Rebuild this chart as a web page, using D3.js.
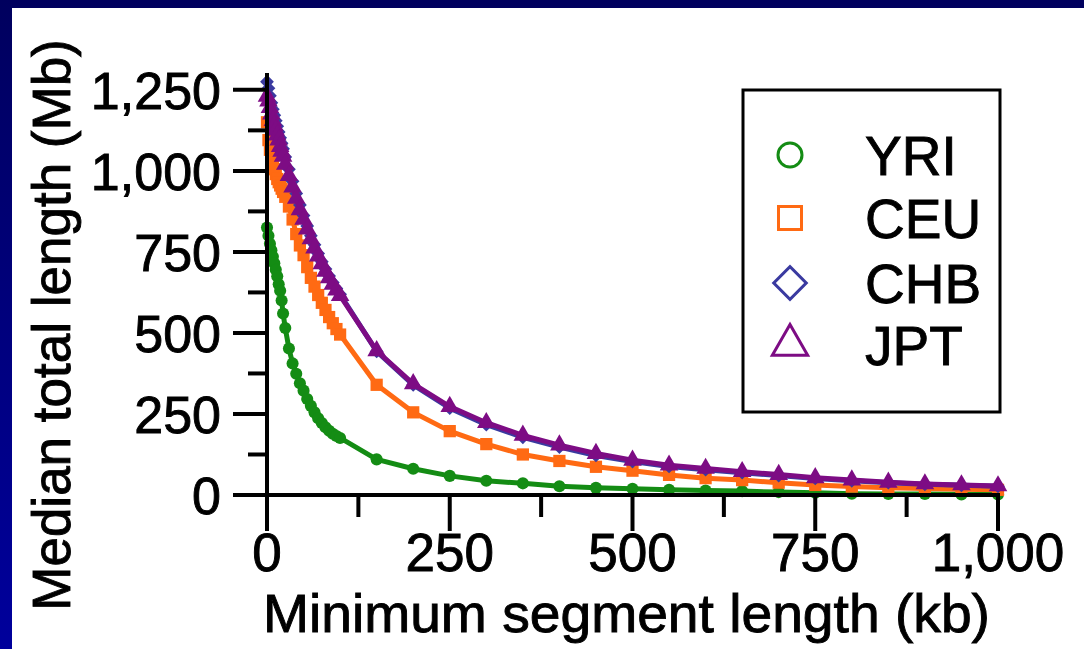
<!DOCTYPE html>
<html>
<head>
<meta charset="utf-8">
<script src="https://cdn.jsdelivr.net/npm/d3@7"></script>
<style>
  html, body { margin: 0; padding: 0; background: #00006a; }
  svg { display: block; font-family: "Liberation Sans", Arial, Helvetica, sans-serif; }
  text { fill: #000; stroke: #000; stroke-width: 0.9px; }
</style>
</head>
<body>
<div id="chart"></div>
<script>
// Values (kb on x, Mb on y)
var kb = [0, 2, 4, 6, 8, 10, 12, 14, 16, 18, 20, 22,
          25, 30, 35, 40, 45, 50, 55, 60, 65, 70, 75, 80, 85, 90, 95, 100,
          150, 200, 250, 300, 350, 400, 450, 500, 550, 600, 650, 700, 750, 800, 850, 900, 950, 1000];

var yri = [825, 800, 775, 755, 735, 715, 695, 675, 650, 630, 600, 560,
           515, 452, 406, 374, 345, 322, 296, 275, 255, 237, 222, 209, 198, 189, 182, 176,
           110, 81, 59, 44, 36, 27, 22, 19, 16, 14, 12, 9, 7, 4, 3, 3, 2, 2];

var ceu = [1150, 1095, 1065, 1045, 1025, 1005, 990, 975, 965, 955, 945, 935,
           920, 890, 850, 805, 770, 740, 703, 670, 643, 617, 593, 571, 549, 530, 512, 495,
           340, 255, 197, 157, 125, 105, 87, 75, 62, 52, 46, 38, 31, 26, 22, 20, 18, 16];

var chb = [1275, 1255, 1232, 1210, 1190, 1172, 1155, 1138, 1120, 1102, 1085, 1068,
           1043, 1005, 968, 930, 895, 862, 830, 800, 772, 745, 720, 697, 676, 656, 637, 619,
           443, 340, 268, 217, 178, 148, 122, 103, 88, 78, 69, 60, 51, 44, 38, 33, 30, 27];

var jpt = [1230, 1215, 1195, 1175, 1155, 1140, 1125, 1110, 1095, 1075, 1060, 1045,
           1020, 985, 950, 915, 880, 850, 820, 790, 762, 737, 713, 690, 670, 650, 632, 615,
           445, 343, 273, 223, 184, 154, 128, 107, 92, 82, 72, 63, 53, 46, 39, 34, 31, 28];

var seriesNames = ["YRI", "CEU", "CHB", "JPT"];
var xMajor = [0, 250, 500, 750, 1000];
var xMinor = [125, 375, 625, 875];
var yMajor = [0, 250, 500, 750, 1000, 1250];
var yMinor = [125, 375, 625, 875, 1125];

var colors = {YRI: "#148c14", CEU: "#ff6a13", CHB: "#3a3aa0", JPT: "#7d0c84"};
var seriesData = {YRI: yri, CEU: ceu, CHB: chb, JPT: jpt};

var W = 1084, H = 649;

var svg = d3.select("#chart").append("svg")
    .attr("width", W)
    .attr("height", H);

// navy frame + white panel
var grad = svg.append("defs").append("linearGradient")
    .attr("id", "frame").attr("x1", 0).attr("y1", 0).attr("x2", 0).attr("y2", 1);
grad.append("stop").attr("offset", "0%").attr("stop-color", "#00005e");
grad.append("stop").attr("offset", "100%").attr("stop-color", "#00009c");
svg.append("rect").attr("width", W).attr("height", H).attr("fill", "url(#frame)");
svg.append("rect").attr("x", 12).attr("y", 8).attr("width", W - 12).attr("height", H - 8).attr("fill", "#fff");

// scales
var x = d3.scaleLinear().domain([0, 1000]).range([267, 998]);
var y = d3.scaleLinear().domain([0, 1302]).range([495, 73]);

var fmt = d3.format(",");

// lines + markers
var line = d3.line()
    .x(function(d) { return x(d[0]); })
    .y(function(d) { return y(d[1]); });

var markerShape = {
  YRI: d3.symbol().type(d3.symbolCircle).size(115),
  CEU: d3.symbol().type(d3.symbolSquare).size(150),
  CHB: d3.symbol().type(d3.symbolSquare).size(95),
  JPT: d3.symbol().type(d3.symbolTriangle).size(150)
};
var markerRot = {YRI: 0, CEU: 0, CHB: 45, JPT: 0};

var plot = svg.append("g");
seriesNames.forEach(function(name) {
  var pts = kb.map(function(k, i) { return [k, seriesData[name][i]]; });
  var g = plot.append("g");
  g.append("path")
    .datum(pts)
    .attr("d", line)
    .attr("fill", "none")
    .attr("stroke", colors[name])
    .attr("stroke-width", 5)
    .attr("stroke-linejoin", "round");
  g.selectAll("path.mk")
    .data(pts)
    .enter()
    .append("path")
    .attr("class", "mk")
    .attr("d", markerShape[name])
    .attr("transform", function(d) {
      return "translate(" + x(d[0]) + "," + y(d[1]) + ") rotate(" + markerRot[name] + ")";
    })
    .attr("fill", colors[name]);
});

// axes
var axes = svg.append("g").attr("stroke", "#000").attr("stroke-width", 4);

axes.append("line")
  .attr("x1", x(0)).attr("x2", x(1000) + 2)
  .attr("y1", y(0)).attr("y2", y(0));
axes.append("line")
  .attr("x1", x(0)).attr("x2", x(0))
  .attr("y1", y(0) + 2).attr("y2", y(1302));

axes.selectAll("line.xmaj").data(xMajor).enter().append("line")
  .attr("x1", function(d) { return x(d); }).attr("x2", function(d) { return x(d); })
  .attr("y1", y(0)).attr("y2", y(0) + 36);
axes.selectAll("line.xmin").data(xMinor).enter().append("line")
  .attr("x1", function(d) { return x(d); }).attr("x2", function(d) { return x(d); })
  .attr("y1", y(0)).attr("y2", y(0) + 22);
axes.selectAll("line.ymaj").data(yMajor).enter().append("line")
  .attr("x1", x(0) - 34).attr("x2", x(0))
  .attr("y1", function(d) { return y(d); }).attr("y2", function(d) { return y(d); });
axes.selectAll("line.ymin").data(yMinor).enter().append("line")
  .attr("x1", x(0) - 19).attr("x2", x(0))
  .attr("y1", function(d) { return y(d); }).attr("y2", function(d) { return y(d); });

// tick labels
svg.selectAll("text.xt").data(xMajor).enter().append("text")
  .attr("x", function(d) { return x(d); })
  .attr("y", 571)
  .attr("text-anchor", "middle")
  .style("font-size", "53px")
  .text(fmt);

svg.selectAll("text.yt").data(yMajor).enter().append("text")
  .attr("x", 221)
  .attr("y", function(d) { return y(d) + 19; })
  .attr("text-anchor", "end")
  .style("font-size", "52px")
  .text(fmt);

// axis titles
svg.append("text")
  .attr("x", 263)
  .attr("y", 632)
  .attr("textLength", 727)
  .attr("lengthAdjust", "spacingAndGlyphs")
  .style("font-size", "54px")
  .text("Minimum segment length (kb)");

svg.append("text")
  .attr("transform", "translate(70,325) rotate(-90)")
  .attr("text-anchor", "middle")
  .style("font-size", "53px")
  .text("Median total length (Mb)");

// legend
var legend = svg.append("g");
legend.append("rect")
  .attr("x", 743).attr("y", 90)
  .attr("width", 257).attr("height", 322)
  .attr("fill", "#fff")
  .attr("stroke", "#000")
  .attr("stroke-width", 3);

var legShape = {
  YRI: d3.symbol().type(d3.symbolCircle).size(Math.PI * 12 * 12),
  CEU: d3.symbol().type(d3.symbolSquare).size(23 * 23),
  CHB: d3.symbol().type(d3.symbolSquare).size(23 * 23),
  JPT: d3.symbol().type(d3.symbolTriangle).size(540)
};
var legY = [155, 218, 283, 345];
seriesNames.forEach(function(name, i) {
  legend.append("path")
    .attr("d", legShape[name])
    .attr("transform", "translate(790," + legY[i] + ") rotate(" + markerRot[name] + ")")
    .attr("fill", "none")
    .attr("stroke", colors[name])
    .attr("stroke-width", 3);
  legend.append("text")
    .attr("x", 865)
    .attr("y", legY[i] + 20)
    .style("font-size", "55px")
    .text(name);
});
</script>
</body>
</html>
